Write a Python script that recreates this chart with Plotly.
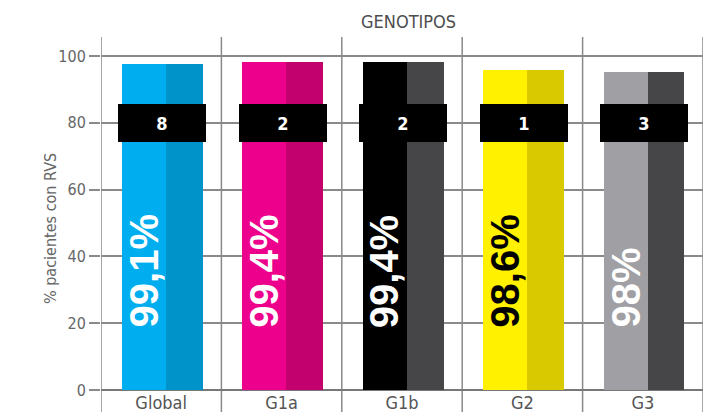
import plotly.graph_objects as go

categories = ["Global", "G1a", "G1b", "G2", "G3"]
bar_values = [97.6, 98.2, 98.2, 95.8, 95.2]
pct_labels = ["99,1%", "99,4%", "99,4%", "98,6%", "98%"]
n_labels = ["8", "2", "2", "1", "3"]
light_colors = ["#00AEEF", "#EC008C", "#000000", "#FFF100", "#A0A0A4"]
dark_colors = ["#0093C9", "#C2006E", "#464648", "#D9C900", "#464648"]
pct_text_colors = ["#FFFFFF", "#FFFFFF", "#FFFFFF", "#000000", "#FFFFFF"]
y_ticks = [0, 20, 40, 60, 80, 100]

COND = "DejaVu Sans Condensed, Liberation Sans Narrow, sans-serif"
xs = list(range(len(categories)))

fig = go.Figure()
fig.add_trace(go.Bar(x=xs, y=bar_values, offset=-0.325, width=0.365,
                     marker=dict(color=light_colors, line=dict(width=0)),
                     hoverinfo="skip", showlegend=False))
fig.add_trace(go.Bar(x=xs, y=bar_values, offset=0.04, width=0.305,
                     marker=dict(color=dark_colors, line=dict(width=0)),
                     hoverinfo="skip", showlegend=False))
# black count boxes
fig.add_trace(go.Bar(x=xs, y=[11.4] * len(xs), base=74.3, offset=-0.355, width=0.73,
                     marker=dict(color="#000000", line=dict(width=0)),
                     text=n_labels, textposition="inside", insidetextanchor="middle",
                     textangle=0, constraintext="none",
                     textfont=dict(family=COND, size=18, color="#FFFFFF", weight="bold"),
                     hoverinfo="skip", showlegend=False))

for i, (t, c) in enumerate(zip(pct_labels, pct_text_colors)):
    fig.add_annotation(x=i - 0.1425, y=18.0, xref="x", yref="y", text="<b>%s</b>" % t,
                       textangle=-90, showarrow=False, xanchor="center", yanchor="bottom",
                       font=dict(family="Liberation Sans, Arial, sans-serif", size=40, color=c))

# vertical category separators
for k in range(len(categories) + 1):
    fig.add_shape(type="line", xref="x", yref="paper", x0=k - 0.5, x1=k - 0.5,
                  y0=-0.0623, y1=1, line=dict(color="#8a8a8a", width=1.5), layer="below")

fig.add_annotation(x=0.51, y=1.0, xref="paper", yref="paper", yshift=16, text="GENOTIPOS",
                   showarrow=False, xanchor="center", yanchor="middle",
                   font=dict(family=COND, size=18, color="#4d4d4d"))
fig.add_annotation(x=-0.0847, y=0.456, xref="paper", yref="paper", text="% pacientes con RVS",
                   textangle=-90, showarrow=False, xanchor="center", yanchor="middle",
                   font=dict(family=COND, size=16, color="#666666"))

fig.update_layout(
    template="none",
    width=713, height=409,
    margin=dict(l=93, r=18, t=29, b=27, autoexpand=False),
    paper_bgcolor="white", plot_bgcolor="white",
    barmode="overlay", bargap=0,
    xaxis=dict(range=[-0.5, 4.5], tickvals=xs, ticktext=categories, showgrid=False,
               zeroline=False, showline=False, ticks="", automargin=False,
               tickfont=dict(family=COND, size=18, color="#555555")),
    yaxis=dict(range=[0, 105.7], tickvals=y_ticks, showgrid=True, gridcolor="#8a8a8a",
               gridwidth=1.5, zeroline=True, zerolinecolor="#777777", zerolinewidth=2,
               ticks="outside", ticklen=11, tickcolor="#8a8a8a", tickwidth=1.5,
               showline=False, automargin=False,
               tickfont=dict(family=COND, size=16, color="#666666")),
)

fig.write_html("out.html")
